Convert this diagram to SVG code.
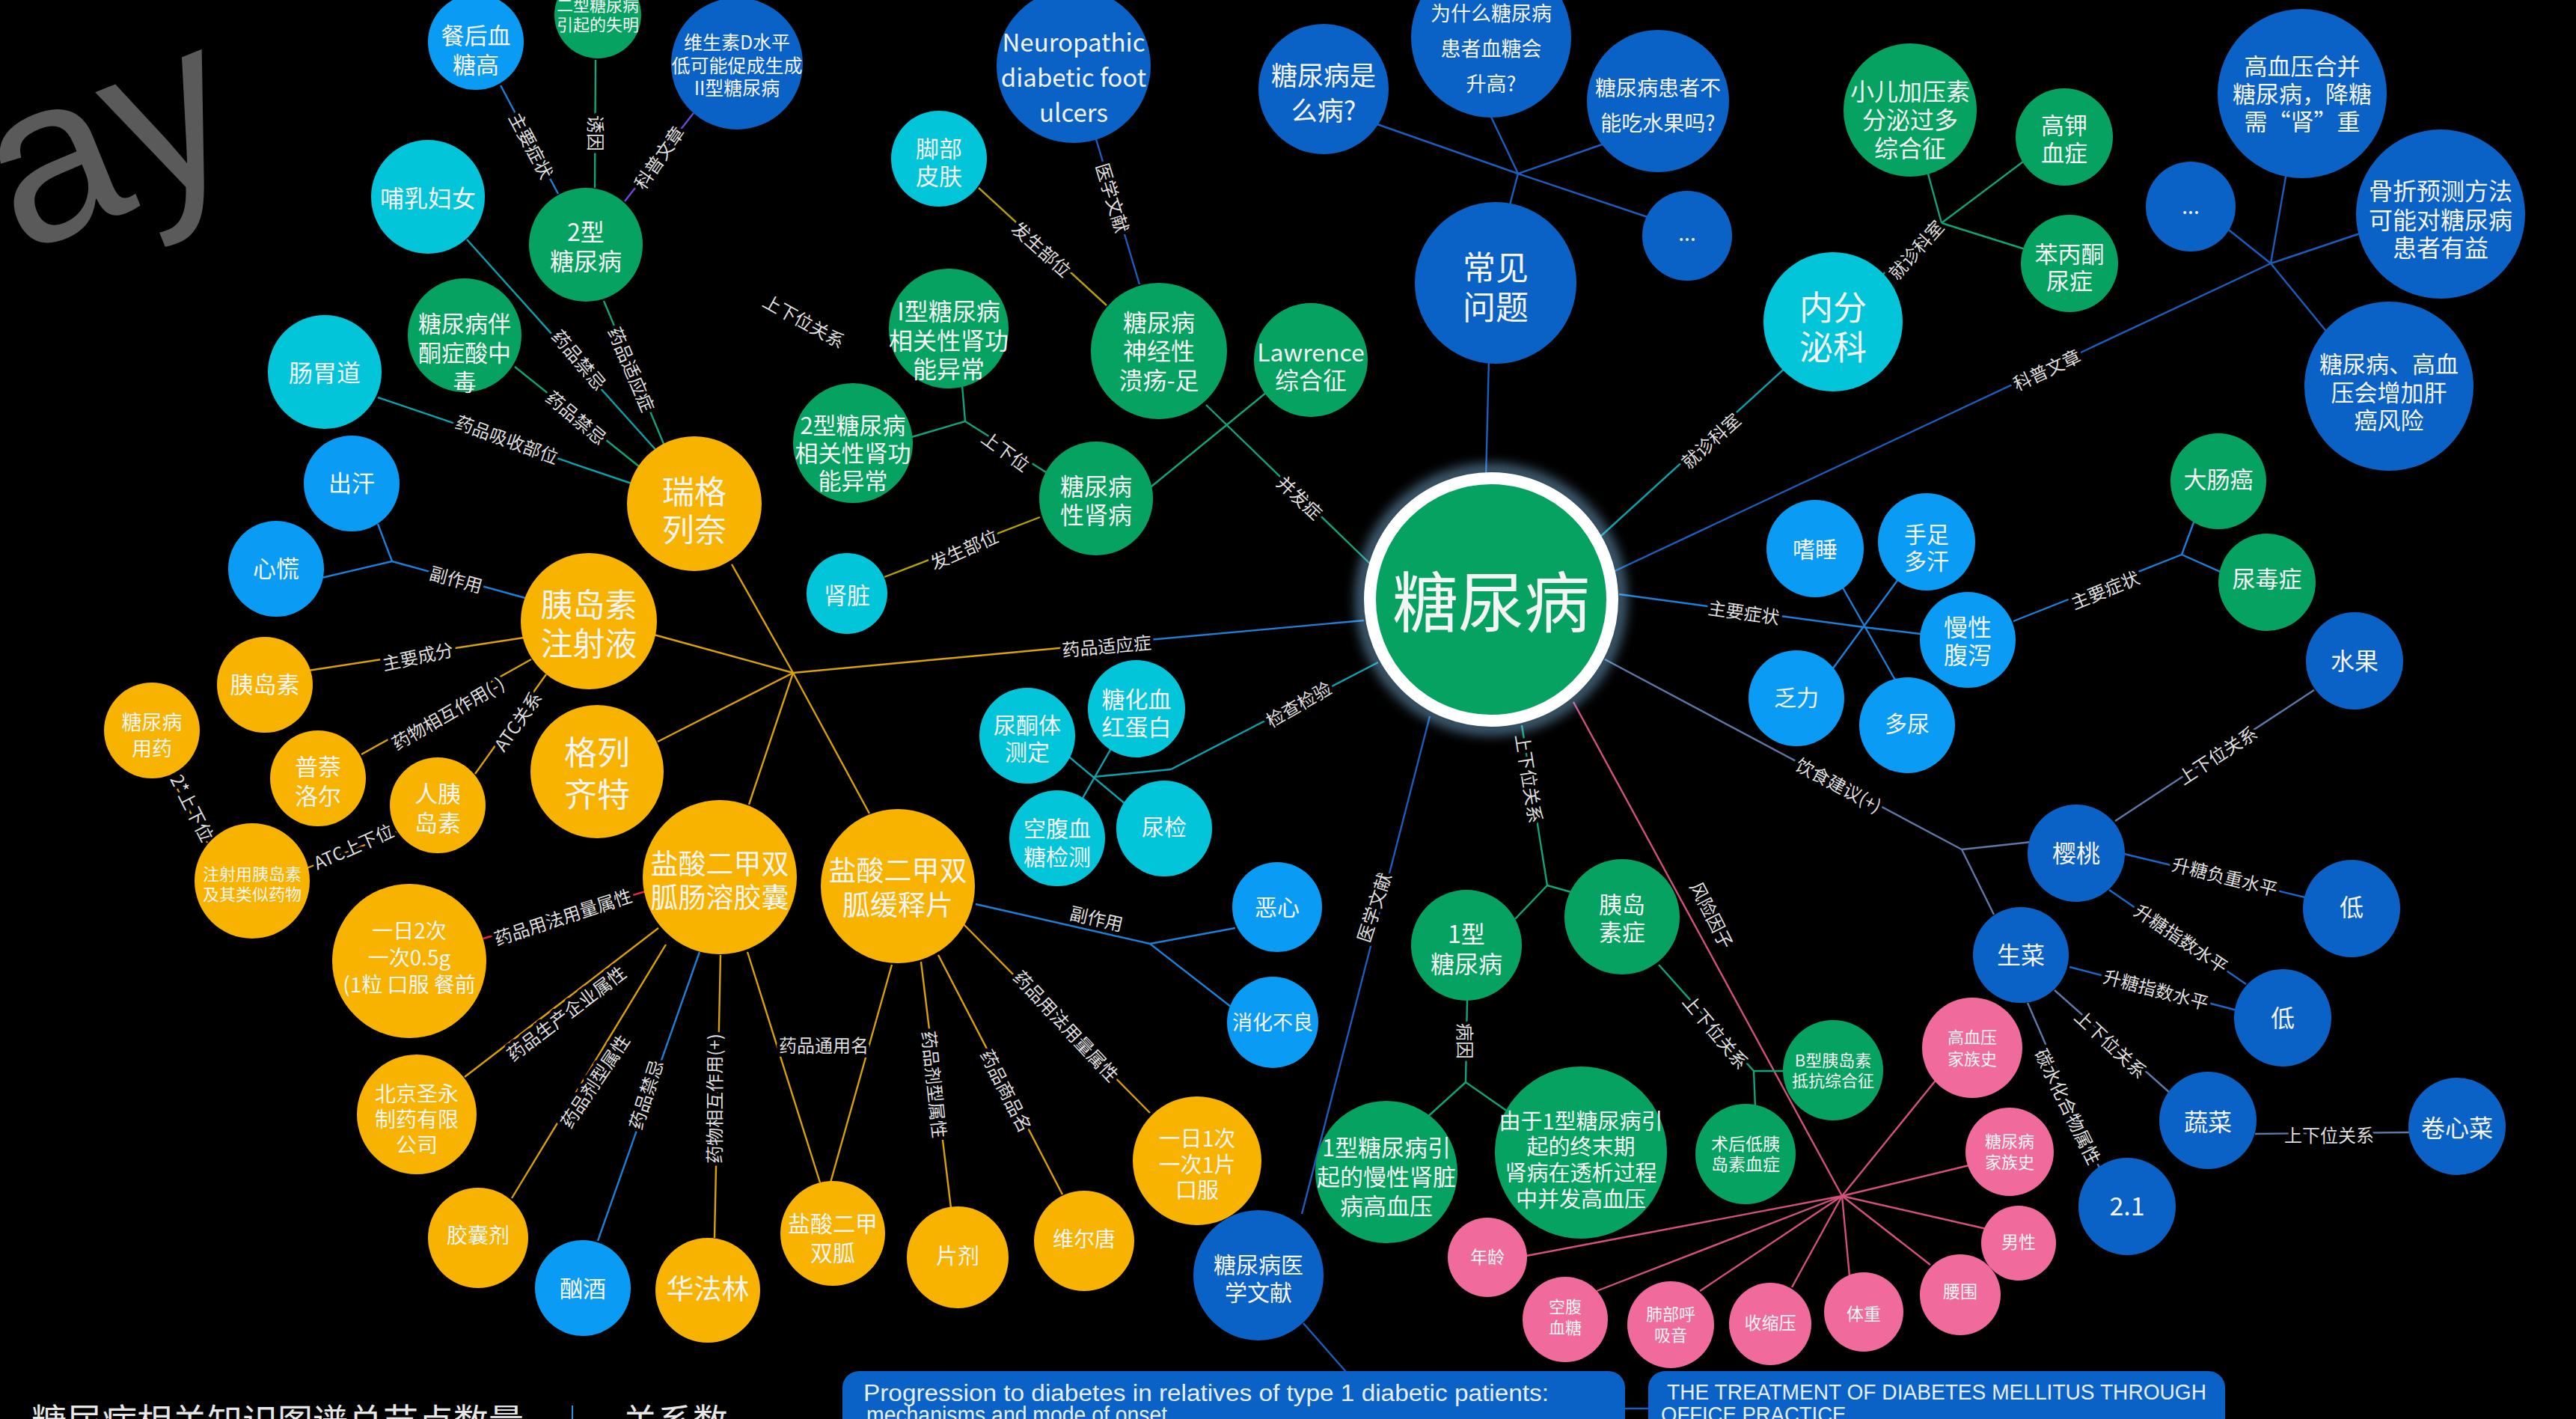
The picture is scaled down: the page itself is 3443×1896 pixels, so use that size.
<svg xmlns="http://www.w3.org/2000/svg" width="3443" height="1896" viewBox="0 0 3443 1896">
<defs>
<style>
.nd text{font-family:"Noto Sans CJK SC","Noto Sans",sans-serif;fill:#f4f4f4;text-anchor:middle;dominant-baseline:central}
.db{fill:#0b62c6}.lb{fill:#0a9cf4}.cy{fill:#03c5da}.gr{fill:#06a261}.or{fill:#f8b300}.pk{fill:#f06b9b}
#connectors line{stroke-width:2.4;fill:none}
.k-db{stroke:#1b5ebf}.k-lb{stroke:#1b80d8}.k-bl{stroke:#1a68cc}.k-te{stroke:#0aa3ab}.k-gr{stroke:#10a47a}.k-or{stroke:#d9a200}.k-ol{stroke:#b5a200}.k-pk{stroke:#d5507f}.k-sl{stroke:#5e79a8}.k-pu{stroke:#6b48d6}.k-rd{stroke:#e02a2a}
.el{font-family:"Noto Sans CJK SC","Noto Sans",sans-serif;font-size:24px;fill:#dedede;text-anchor:middle;dominant-baseline:central;stroke:#000;stroke-width:9px;paint-order:stroke;stroke-linejoin:round}
.box{fill:#0b62c6}
.bt{font-family:"Liberation Sans",Arial,sans-serif;fill:#e6eefa}
</style>
<filter id="glow" x="-30%" y="-30%" width="160%" height="160%"><feGaussianBlur stdDeviation="9"/></filter>
</defs>
<rect width="3443" height="1896" fill="#000"/>
<text x="28" y="340" transform="rotate(-22 28 340)" font-family="Liberation Sans,Arial,sans-serif" font-size="310" fill="#5a5a5a">ay</text>

<g id="connectors">
<line class="k-db" x1="1986" y1="640" x2="1990" y2="480"/>
<line class="k-db" x1="2015" y1="285" x2="2029" y2="232"/>
<line class="k-db" x1="2029" y1="232" x2="1835" y2="164"/>
<line class="k-db" x1="2029" y1="232" x2="1990" y2="150"/>
<line class="k-db" x1="2029" y1="232" x2="2150" y2="190"/>
<line class="k-db" x1="2029" y1="232" x2="2205" y2="291"/>
<line class="k-te" x1="2140" y1="716" x2="2390" y2="488"/>
<line class="k-gr" x1="2515" y1="368" x2="2595" y2="298"/>
<line class="k-gr" x1="2595" y1="298" x2="2575" y2="225"/>
<line class="k-gr" x1="2595" y1="298" x2="2712" y2="210"/>
<line class="k-gr" x1="2595" y1="298" x2="2710" y2="334"/>
<line class="k-db" x1="2158" y1="763" x2="3035" y2="352"/>
<line class="k-db" x1="3035" y1="352" x2="3057" y2="225"/>
<line class="k-db" x1="3035" y1="352" x2="2975" y2="304"/>
<line class="k-db" x1="3035" y1="352" x2="3160" y2="310"/>
<line class="k-db" x1="3035" y1="352" x2="3112" y2="446"/>
<line class="k-lb" x1="2164" y1="794" x2="2491" y2="838"/>
<line class="k-lb" x1="2491" y1="838" x2="2575" y2="848"/>
<line class="k-lb" x1="2460" y1="780" x2="2535" y2="912"/>
<line class="k-lb" x1="2540" y1="770" x2="2447" y2="897"/>
<line class="k-lb" x1="2691" y1="830" x2="2916" y2="741"/>
<line class="k-lb" x1="2916" y1="741" x2="2935" y2="690"/>
<line class="k-lb" x1="2916" y1="741" x2="2972" y2="766"/>
<line class="k-sl" x1="2145" y1="881" x2="2622" y2="1135"/>
<line class="k-sl" x1="2622" y1="1135" x2="2715" y2="1125"/>
<line class="k-sl" x1="2622" y1="1135" x2="2665" y2="1222"/>
<line class="k-sl" x1="2827" y1="1097" x2="3093" y2="922"/>
<line class="k-bl" x1="2835" y1="1140" x2="3085" y2="1200"/>
<line class="k-bl" x1="2819" y1="1189" x2="3002" y2="1315"/>
<line class="k-bl" x1="2766" y1="1292" x2="2990" y2="1350"/>
<line class="k-sl" x1="2746" y1="1323" x2="2900" y2="1460"/>
<line class="k-sl" x1="2710" y1="1340" x2="2808" y2="1565"/>
<line class="k-sl" x1="3014" y1="1515" x2="3222" y2="1513"/>
<line class="k-pk" x1="2103" y1="938" x2="2462" y2="1598"/>
<line class="k-pk" x1="2462" y1="1598" x2="2040" y2="1678"/>
<line class="k-pk" x1="2462" y1="1598" x2="2134" y2="1725"/>
<line class="k-pk" x1="2462" y1="1598" x2="2272" y2="1725"/>
<line class="k-pk" x1="2462" y1="1598" x2="2395" y2="1720"/>
<line class="k-pk" x1="2462" y1="1598" x2="2472" y2="1705"/>
<line class="k-pk" x1="2462" y1="1598" x2="2580" y2="1690"/>
<line class="k-pk" x1="2462" y1="1598" x2="2655" y2="1642"/>
<line class="k-pk" x1="2462" y1="1598" x2="2632" y2="1557"/>
<line class="k-pk" x1="2462" y1="1598" x2="2590" y2="1440"/>
<line class="k-gr" x1="2034" y1="969" x2="2068" y2="1183"/>
<line class="k-gr" x1="2068" y1="1183" x2="2025" y2="1228"/>
<line class="k-gr" x1="2068" y1="1183" x2="2100" y2="1192"/>
<line class="k-gr" x1="1961" y1="1335" x2="1959" y2="1446"/>
<line class="k-gr" x1="1959" y1="1446" x2="1905" y2="1495"/>
<line class="k-gr" x1="1959" y1="1446" x2="2015" y2="1485"/>
<line class="k-gr" x1="2217" y1="1289" x2="2344" y2="1431"/>
<line class="k-gr" x1="2344" y1="1431" x2="2390" y2="1431"/>
<line class="k-gr" x1="2344" y1="1431" x2="2346" y2="1480"/>
<line class="k-db" x1="1911" y1="957" x2="1740" y2="1622"/>
<line class="k-db" x1="1742" y1="1768" x2="1800" y2="1834"/>
<line class="k-db" x1="2170" y1="1882" x2="2205" y2="1882"/>
<line class="k-te" x1="1842" y1="885" x2="1565" y2="1028"/>
<line class="k-te" x1="1565" y1="1028" x2="1462" y2="1038"/>
<line class="k-te" x1="1425" y1="1008" x2="1505" y2="1075"/>
<line class="k-te" x1="1488" y1="995" x2="1445" y2="1070"/>
<line class="k-lb" x1="1823" y1="829" x2="1480" y2="860"/>
<line class="k-or" x1="1480" y1="860" x2="1060" y2="899"/>
<line class="k-or" x1="1060" y1="899" x2="978" y2="754"/>
<line class="k-or" x1="1060" y1="899" x2="874" y2="848"/>
<line class="k-or" x1="1060" y1="899" x2="879" y2="991"/>
<line class="k-or" x1="1060" y1="899" x2="1001" y2="1075"/>
<line class="k-or" x1="1060" y1="899" x2="1162" y2="1087"/>
<line class="k-lb" x1="746" y1="259" x2="669" y2="114"/>
<line class="k-gr" x1="795" y1="251" x2="796" y2="80"/>
<line class="k-pu" x1="835" y1="269" x2="927" y2="151"/>
<line class="k-gr" x1="807" y1="402" x2="890" y2="600"/>
<line class="k-te" x1="624" y1="320" x2="880" y2="605"/>
<line class="k-gr" x1="688" y1="490" x2="860" y2="628"/>
<line class="k-te" x1="505" y1="531" x2="850" y2="648"/>
<line class="k-lb" x1="702" y1="799" x2="524" y2="750"/>
<line class="k-lb" x1="524" y1="750" x2="505" y2="700"/>
<line class="k-lb" x1="524" y1="750" x2="430" y2="772"/>
<line class="k-or" x1="700" y1="852" x2="412" y2="896"/>
<line class="k-or" x1="710" y1="881" x2="483" y2="1008"/>
<line class="k-or" x1="730" y1="901" x2="635" y2="1034"/>
<line class="k-or" x1="530" y1="1112" x2="410" y2="1160"/>
<line class="k-or" x1="228" y1="1038" x2="277" y2="1126"/>
<line class="k-rd" x1="870" y1="1189" x2="646" y2="1254"/>
<line class="k-or" x1="880" y1="1240" x2="621" y2="1439"/>
<line class="k-or" x1="890" y1="1262" x2="684" y2="1601"/>
<line class="k-lb" x1="935" y1="1272" x2="799" y2="1658"/>
<line class="k-or" x1="963" y1="1276" x2="955" y2="1654"/>
<line class="k-or" x1="999" y1="1272" x2="1096" y2="1580"/>
<line class="k-or" x1="1192" y1="1289" x2="1110" y2="1580"/>
<line class="k-or" x1="1231" y1="1285" x2="1271" y2="1614"/>
<line class="k-or" x1="1254" y1="1276" x2="1420" y2="1596"/>
<line class="k-or" x1="1285" y1="1232" x2="1537" y2="1487"/>
<line class="k-lb" x1="1304" y1="1208" x2="1537" y2="1261"/>
<line class="k-lb" x1="1537" y1="1261" x2="1651" y2="1240"/>
<line class="k-lb" x1="1537" y1="1261" x2="1645" y2="1345"/>
<line class="k-ol" x1="1479" y1="408" x2="1308" y2="251"/>
<line class="k-db" x1="1523" y1="380" x2="1465" y2="186"/>
<line class="k-gr" x1="1612" y1="541" x2="1835" y2="757"/>
<line class="k-gr" x1="1698" y1="520" x2="1534" y2="654"/>
<line class="k-gr" x1="1398" y1="631" x2="1290" y2="563"/>
<line class="k-gr" x1="1290" y1="563" x2="1286" y2="515"/>
<line class="k-gr" x1="1290" y1="563" x2="1215" y2="585"/>
<line class="k-ol" x1="1390" y1="691" x2="1182" y2="771"/>

<text class="el" transform="translate(2286 588) rotate(-42)">就诊科室</text>
<text class="el" transform="translate(2560 333) rotate(-48)">就诊科室</text>
<text class="el" transform="translate(2735 493) rotate(-25)">科普文章</text>
<text class="el" transform="translate(2331 817) rotate(8)">主要症状</text>
<text class="el" transform="translate(2813 787) rotate(-22)">主要症状</text>
<text class="el" transform="translate(2458 1048) rotate(28)">饮食建议(+)</text>
<text class="el" transform="translate(2963 1008) rotate(-33)">上下位关系</text>
<text class="el" transform="translate(2974 1170) rotate(14)">升糖负重水平</text>
<text class="el" transform="translate(2916 1253) rotate(34)">升糖指数水平</text>
<text class="el" transform="translate(2882 1321) rotate(15)">升糖指数水平</text>
<text class="el" transform="translate(2822 1394) rotate(43)">上下位关系</text>
<text class="el" transform="translate(2765 1478) rotate(64)">碳水化合物属性</text>
<text class="el" transform="translate(3113 1515)">上下位关系</text>
<text class="el" transform="translate(2289 1222) rotate(63)">风险因子</text>
<text class="el" transform="translate(2045 1040) rotate(81)">上下位关系</text>
<text class="el" transform="translate(1959 1391) rotate(90)">病因</text>
<text class="el" transform="translate(2294 1378) rotate(50)">上下位关系</text>
<text class="el" transform="translate(1835 1212) rotate(-72)">医学文献</text>
<text class="el" transform="translate(1735 940) rotate(-30)">检查检验</text>
<text class="el" transform="translate(1479 862) rotate(-5)">药品适应症</text>
<text class="el" transform="translate(711 194) rotate(62)">主要症状</text>
<text class="el" transform="translate(797 178) rotate(90)">诱因</text>
<text class="el" transform="translate(880 210) rotate(-55)">科普文章</text>
<text class="el" transform="translate(845 493) rotate(67)">药品适应症</text>
<text class="el" transform="translate(775 480) rotate(50)">药品禁忌</text>
<text class="el" transform="translate(771 557) rotate(40)">药品禁忌</text>
<text class="el" transform="translate(678 586) rotate(20)">药品吸收部位</text>
<text class="el" transform="translate(610 773) rotate(15)">副作用</text>
<text class="el" transform="translate(558 876) rotate(-12)">主要成分</text>
<text class="el" transform="translate(598 952) rotate(-30)">药物相互作用(-)</text>
<text class="el" transform="translate(691 963) rotate(-55)">ATC关系</text>
<text class="el" transform="translate(472 1130) rotate(-24)">ATC上下位</text>
<text class="el" transform="translate(258 1079) rotate(63)">2*上下位</text>
<text class="el" transform="translate(752 1224) rotate(-18)">药品用法用量属性</text>
<text class="el" transform="translate(756 1353) rotate(-37)">药品生产企业属性</text>
<text class="el" transform="translate(794 1444) rotate(-56)">药品剂型属性</text>
<text class="el" transform="translate(862 1462) rotate(-72)">药品禁忌</text>
<text class="el" transform="translate(953 1468) rotate(-90)">药物相互作用(+)</text>
<text class="el" transform="translate(1101 1395)">药品通用名</text>
<text class="el" transform="translate(1250 1449) rotate(84)">药品剂型属性</text>
<text class="el" transform="translate(1346 1457) rotate(63)">药品商品名</text>
<text class="el" transform="translate(1426 1370) rotate(47)">药品用法用量属性</text>
<text class="el" transform="translate(1466 1226) rotate(13)">副作用</text>
<text class="el" transform="translate(1393 332) rotate(42)">发生部位</text>
<text class="el" transform="translate(1488 264) rotate(73)">医学文献</text>
<text class="el" transform="translate(1738 664) rotate(43)">并发症</text>
<text class="el" transform="translate(1345 602) rotate(36)">上下位</text>
<text class="el" transform="translate(1288 733) rotate(-24)">发生部位</text>
<text class="el" transform="translate(1075 428) rotate(29)">上下位关系</text>
</g>

<g id="n-canhou" class="nd"><circle class="lb" cx="636" cy="56" r="64"/><text font-size="31"><tspan x="636" y="45">餐后血</tspan><tspan x="636" y="84">糖高</tspan></text></g>
<g id="n-shiming" class="nd"><circle class="gr" cx="799" cy="20" r="58"/><text font-size="22"><tspan x="799" y="5">二型糖尿病</tspan><tspan x="799" y="31">引起的失明</tspan></text></g>
<g id="n-vitd" class="nd"><circle class="db" cx="985" cy="85" r="88"/><text font-size="25"><tspan x="985" y="55">维生素D水平</tspan><tspan x="985" y="86">低可能促成生成</tspan><tspan x="985" y="116">II型糖尿病</tspan></text></g>
<g id="n-t2" class="nd"><circle class="gr" cx="783" cy="327" r="76"/><text font-size="32"><tspan x="783" y="308">2型</tspan><tspan x="783" y="347">糖尿病</tspan></text></g>
<g id="n-buru" class="nd"><circle class="cy" cx="572" cy="263" r="76"/><text x="572" y="263" font-size="32">哺乳妇女</text></g>
<g id="n-tongzheng" class="nd"><circle class="gr" cx="621" cy="448" r="76"/><text font-size="31"><tspan x="621" y="430">糖尿病伴</tspan><tspan x="621" y="469">酮症酸中</tspan><tspan x="621" y="508">毒</tspan></text></g>
<g id="n-changwei" class="nd"><circle class="cy" cx="434" cy="497" r="76"/><text x="434" y="496" font-size="32">肠胃道</text></g>
<g id="n-chuhan" class="nd"><circle class="lb" cx="470" cy="646" r="64"/><text x="470" y="643" font-size="31">出汗</text></g>
<g id="n-xinhuang" class="nd"><circle class="lb" cx="369" cy="760" r="64"/><text x="369" y="757" font-size="31">心慌</text></g>
<g id="n-yidaosuzsy" class="nd"><circle class="or" cx="787" cy="830" r="91"/><text font-size="43"><tspan x="787" y="805">胰岛素</tspan><tspan x="787" y="857">注射液</tspan></text></g>
<g id="n-yidaosu" class="nd"><circle class="or" cx="354" cy="915" r="64"/><text x="354" y="912" font-size="31">胰岛素</text></g>
<g id="n-tnbyy" class="nd"><circle class="or" cx="203" cy="976" r="64"/><text font-size="27"><tspan x="203" y="963">糖尿病</tspan><tspan x="203" y="998">用药</tspan></text></g>
<g id="n-pulaner" class="nd"><circle class="or" cx="425" cy="1040" r="64"/><text font-size="31"><tspan x="425" y="1022">普萘</tspan><tspan x="425" y="1061">洛尔</tspan></text></g>
<g id="n-renyidaosu" class="nd"><circle class="or" cx="585" cy="1076" r="64"/><text font-size="31"><tspan x="585" y="1058">人胰</tspan><tspan x="585" y="1097">岛素</tspan></text></g>
<g id="n-gelieqite" class="nd"><circle class="or" cx="798" cy="1031" r="89"/><text font-size="44"><tspan x="798" y="1003">格列</tspan><tspan x="798" y="1059">齐特</tspan></text></g>
<g id="n-zsyyds" class="nd"><circle class="or" cx="337" cy="1177" r="77"/><text font-size="22"><tspan x="337" y="1166">注射用胰岛素</tspan><tspan x="337" y="1193">及其类似药物</tspan></text></g>
<g id="n-yiri2" class="nd"><circle class="or" cx="547" cy="1284" r="103"/><text font-size="28"><tspan x="547" y="1242">一日2次</tspan><tspan x="547" y="1278">一次0.5g</tspan><tspan x="547" y="1314">(1粒 口服 餐前</tspan></text></g>
<g id="n-beijing" class="nd"><circle class="or" cx="557" cy="1489" r="80"/><text font-size="28"><tspan x="557" y="1460">北京圣永</tspan><tspan x="557" y="1494">制药有限</tspan><tspan x="557" y="1528">公司</tspan></text></g>
<g id="n-jiaonang" class="nd"><circle class="or" cx="639" cy="1654" r="67"/><text x="639" y="1649" font-size="28">胶囊剂</text></g>
<g id="n-xujiu" class="nd"><circle class="lb" cx="779" cy="1721" r="64"/><text x="779" y="1719" font-size="31">酗酒</text></g>
<g id="n-huafalin" class="nd"><circle class="or" cx="946" cy="1724" r="70"/><text x="946" y="1720" font-size="37">华法林</text></g>
<g id="n-ysejsg" class="nd"><circle class="or" cx="1113" cy="1648" r="70"/><text font-size="30"><tspan x="1113" y="1633">盐酸二甲</tspan><tspan x="1113" y="1672">双胍</tspan></text></g>
<g id="n-pianji" class="nd"><circle class="or" cx="1280" cy="1680" r="68"/><text x="1280" y="1676" font-size="29">片剂</text></g>
<g id="n-weiertang" class="nd"><circle class="or" cx="1449" cy="1658" r="67"/><text x="1449" y="1654" font-size="28">维尔唐</text></g>
<g id="n-yiri1" class="nd"><circle class="or" cx="1600" cy="1551" r="86"/><text font-size="29"><tspan x="1600" y="1519">一日1次</tspan><tspan x="1600" y="1554">一次1片</tspan><tspan x="1600" y="1588">口服</tspan></text></g>
<g id="n-tnbyxwx" class="nd"><circle class="db" cx="1682" cy="1704" r="87"/><text font-size="30"><tspan x="1682" y="1688">糖尿病医</tspan><tspan x="1682" y="1725">学文献</tspan></text></g>
<g id="n-changrong" class="nd"><circle class="or" cx="962" cy="1172" r="103"/><text font-size="37"><tspan x="962" y="1152">盐酸二甲双</tspan><tspan x="962" y="1197">胍肠溶胶囊</tspan></text></g>
<g id="n-huanshi" class="nd"><circle class="or" cx="1200" cy="1184" r="103"/><text font-size="37"><tspan x="1200" y="1161">盐酸二甲双</tspan><tspan x="1200" y="1207">胍缓释片</tspan></text></g>
<g id="n-ruige" class="nd"><circle class="or" cx="928" cy="673" r="90"/><text font-size="43"><tspan x="928" y="654">瑞格</tspan><tspan x="928" y="705">列奈</tspan></text></g>
<g id="n-shenzang" class="nd"><circle class="cy" cx="1132" cy="793" r="54"/><text x="1132" y="793" font-size="31">肾脏</text></g>
<g id="n-tnbxsb" class="nd"><circle class="gr" cx="1465" cy="666" r="76"/><text font-size="32"><tspan x="1465" y="648">糖尿病</tspan><tspan x="1465" y="686">性肾病</tspan></text></g>
<g id="n-t2xg" class="nd"><circle class="gr" cx="1140" cy="592" r="80"/><text font-size="31"><tspan x="1140" y="566">2型糖尿病</tspan><tspan x="1140" y="603">相关性肾功</tspan><tspan x="1140" y="640">能异常</tspan></text></g>
<g id="n-t1xg" class="nd"><circle class="gr" cx="1268" cy="439" r="80"/><text font-size="32"><tspan x="1268" y="414">I型糖尿病</tspan><tspan x="1268" y="453">相关性肾功</tspan><tspan x="1268" y="491">能异常</tspan></text></g>
<g id="n-jiaobu" class="nd"><circle class="cy" cx="1255" cy="212" r="64"/><text font-size="31"><tspan x="1255" y="196">脚部</tspan><tspan x="1255" y="233">皮肤</tspan></text></g>
<g id="n-neuro" class="nd"><circle class="db" cx="1435" cy="88" r="103"/><text font-size="33"><tspan x="1435" y="55">Neuropathic</tspan><tspan x="1435" y="102">diabetic foot</tspan><tspan x="1435" y="149">ulcers</tspan></text></g>
<g id="n-kuiyang" class="nd"><circle class="gr" cx="1549" cy="469" r="91"/><text font-size="32"><tspan x="1549" y="429">糖尿病</tspan><tspan x="1549" y="467">神经性</tspan><tspan x="1549" y="506">溃疡-足</tspan></text></g>
<g id="n-lawrence" class="nd"><circle class="gr" cx="1752" cy="481" r="76"/><text font-size="32"><tspan x="1752" y="469">Lawrence</tspan><tspan x="1752" y="506">综合征</tspan></text></g>
<g id="n-shime" class="nd"><circle class="db" cx="1769" cy="119" r="87"/><text font-size="35"><tspan x="1769" y="98">糖尿病是</tspan><tspan x="1769" y="145">么病?</tspan></text></g>
<g id="n-weishenme" class="nd"><circle class="db" cx="1993" cy="50" r="107"/><text font-size="27"><tspan x="1993" y="16">为什么糖尿病</tspan><tspan x="1993" y="63">患者血糖会</tspan><tspan x="1993" y="110">升高?</tspan></text></g>
<g id="n-shuiguoq" class="nd"><circle class="db" cx="2216" cy="135" r="95"/><text font-size="28"><tspan x="2216" y="116">糖尿病患者不</tspan><tspan x="2216" y="163">能吃水果吗?</tspan></text></g>
<g id="n-dots1" class="nd"><circle class="db" cx="2255" cy="315" r="60"/><text x="2255" y="310" font-size="28">...</text></g>
<g id="n-changjian" class="nd"><circle class="db" cx="1999" cy="378" r="108"/><text font-size="44"><tspan x="1999" y="355">常见</tspan><tspan x="1999" y="408">问题</tspan></text></g>
<g id="n-neifenmi" class="nd"><circle class="cy" cx="2450" cy="430" r="93"/><text font-size="45"><tspan x="2450" y="408">内分</tspan><tspan x="2450" y="461">泌科</tspan></text></g>
<g id="n-xiaoer" class="nd"><circle class="gr" cx="2553" cy="147" r="89"/><text font-size="32"><tspan x="2553" y="120">小儿加压素</tspan><tspan x="2553" y="158">分泌过多</tspan><tspan x="2553" y="196">综合征</tspan></text></g>
<g id="n-gaojia" class="nd"><circle class="gr" cx="2759" cy="183" r="65"/><text font-size="31"><tspan x="2759" y="165">高钾</tspan><tspan x="2759" y="202">血症</tspan></text></g>
<g id="n-benbing" class="nd"><circle class="gr" cx="2766" cy="352" r="65"/><text font-size="31"><tspan x="2766" y="337">苯丙酮</tspan><tspan x="2766" y="373">尿症</tspan></text></g>
<g id="n-gxyhb" class="nd"><circle class="db" cx="3077" cy="125" r="113"/><text font-size="31"><tspan x="3077" y="86">高血压合并</tspan><tspan x="3077" y="123">糖尿病，降糖</tspan><tspan x="3077" y="160">需“肾”重</tspan></text></g>
<g id="n-dots2" class="nd"><circle class="db" cx="2928" cy="276" r="60"/><text x="2928" y="274" font-size="28">...</text></g>
<g id="n-guzhe" class="nd"><circle class="db" cx="3262" cy="286" r="113"/><text font-size="32"><tspan x="3262" y="253">骨折预测方法</tspan><tspan x="3262" y="292">可能对糖尿病</tspan><tspan x="3262" y="329">患者有益</tspan></text></g>
<g id="n-ganai" class="nd"><circle class="db" cx="3193" cy="516" r="113"/><text font-size="31"><tspan x="3193" y="484">糖尿病、高血</tspan><tspan x="3193" y="522">压会增加肝</tspan><tspan x="3193" y="559">癌风险</tspan></text></g>
<g id="n-dachang" class="nd"><circle class="gr" cx="2965" cy="643" r="64"/><text x="2965" y="638" font-size="31">大肠癌</text></g>
<g id="n-niaodu" class="nd"><circle class="gr" cx="3030" cy="778" r="65"/><text x="3030" y="771" font-size="31">尿毒症</text></g>
<g id="n-shuiguo" class="nd"><circle class="db" cx="3147" cy="883" r="65"/><text x="3147" y="881" font-size="32">水果</text></g>
<g id="n-shishui" class="nd"><circle class="lb" cx="2426" cy="733" r="65"/><text x="2426" y="732" font-size="30">嗜睡</text></g>
<g id="n-shouzu" class="nd"><circle class="lb" cx="2575" cy="724" r="65"/><text font-size="30"><tspan x="2575" y="712">手足</tspan><tspan x="2575" y="748">多汗</tspan></text></g>
<g id="n-manxing" class="nd"><circle class="lb" cx="2630" cy="855" r="64"/><text font-size="32"><tspan x="2630" y="836">慢性</tspan><tspan x="2630" y="873">腹泻</tspan></text></g>
<g id="n-fali" class="nd"><circle class="lb" cx="2401" cy="933" r="64"/><text x="2401" y="930" font-size="30">乏力</text></g>
<g id="n-duoniao" class="nd"><circle class="lb" cx="2549" cy="969" r="64"/><text x="2549" y="965" font-size="30">多尿</text></g>
<g id="n-center" class="nd">
<circle cx="1993" cy="801" r="172" fill="none" stroke="#8fd2ff" stroke-width="12" opacity="0.75" filter="url(#glow)"/>
<circle class="gr" cx="1993" cy="801" r="162" stroke="#ffffff" stroke-width="16"/>
<text x="1993" y="798" font-size="88">糖尿病</text></g>
<g id="n-t1" class="nd"><circle class="gr" cx="1960" cy="1263" r="74"/><text font-size="32"><tspan x="1960" y="1246">1型</tspan><tspan x="1960" y="1286">糖尿病</tspan></text></g>
<g id="n-yidaosuzheng" class="nd"><circle class="gr" cx="2168" cy="1225" r="77"/><text font-size="31"><tspan x="2168" y="1206">胰岛</tspan><tspan x="2168" y="1243">素症</tspan></text></g>
<g id="n-ckd" class="nd"><circle class="gr" cx="1853" cy="1566" r="95"/><text font-size="31"><tspan x="1853" y="1531">1型糖尿病引</tspan><tspan x="1853" y="1570">起的慢性肾脏</tspan><tspan x="1853" y="1609">病高血压</tspan></text></g>
<g id="n-esrd" class="nd"><circle class="gr" cx="2113" cy="1540" r="115"/><text font-size="29"><tspan x="2113" y="1496">由于1型糖尿病引</tspan><tspan x="2113" y="1530">起的终末期</tspan><tspan x="2113" y="1565">肾病在透析过程</tspan><tspan x="2113" y="1600">中并发高血压</tspan></text></g>
<g id="n-btype" class="nd"><circle class="gr" cx="2450" cy="1430" r="67"/><text font-size="22"><tspan x="2450" y="1415">B型胰岛素</tspan><tspan x="2450" y="1442">抵抗综合征</tspan></text></g>
<g id="n-shuhou" class="nd"><circle class="gr" cx="2333" cy="1542" r="67"/><text font-size="23"><tspan x="2333" y="1527">术后低胰</tspan><tspan x="2333" y="1554">岛素血症</tspan></text></g>
<g id="n-gxyjzs" class="nd"><circle class="pk" cx="2636" cy="1400" r="67"/><text font-size="22"><tspan x="2636" y="1384">高血压</tspan><tspan x="2636" y="1413">家族史</tspan></text></g>
<g id="n-tnbjzs" class="nd"><circle class="pk" cx="2686" cy="1539" r="59"/><text font-size="22"><tspan x="2686" y="1523">糖尿病</tspan><tspan x="2686" y="1551">家族史</tspan></text></g>
<g id="n-nanxing" class="nd"><circle class="pk" cx="2698" cy="1661" r="50"/><text x="2698" y="1658" font-size="23">男性</text></g>
<g id="n-yaowei" class="nd"><circle class="pk" cx="2620" cy="1730" r="54"/><text x="2620" y="1724" font-size="23">腰围</text></g>
<g id="n-tizhong" class="nd"><circle class="pk" cx="2491" cy="1753" r="53"/><text x="2491" y="1754" font-size="23">体重</text></g>
<g id="n-shousuoya" class="nd"><circle class="pk" cx="2366" cy="1769" r="55"/><text x="2366" y="1766" font-size="23">收缩压</text></g>
<g id="n-feibu" class="nd"><circle class="pk" cx="2233" cy="1770" r="58"/><text font-size="22"><tspan x="2233" y="1754">肺部呼</tspan><tspan x="2233" y="1782">吸音</tspan></text></g>
<g id="n-kongfu" class="nd"><circle class="pk" cx="2092" cy="1763" r="57"/><text font-size="22"><tspan x="2092" y="1744">空腹</tspan><tspan x="2092" y="1772">血糖</tspan></text></g>
<g id="n-nianling" class="nd"><circle class="pk" cx="1988" cy="1680" r="53"/><text x="1988" y="1678" font-size="23">年龄</text></g>
<g id="n-yingtao" class="nd"><circle class="db" cx="2775" cy="1140" r="65"/><text x="2775" y="1138" font-size="32">樱桃</text></g>
<g id="n-di1" class="nd"><circle class="db" cx="3143" cy="1214" r="65"/><text x="3143" y="1210" font-size="32">低</text></g>
<g id="n-shengcai" class="nd"><circle class="db" cx="2701" cy="1276" r="64"/><text x="2701" y="1274" font-size="32">生菜</text></g>
<g id="n-di2" class="nd"><circle class="db" cx="3051" cy="1360" r="65"/><text x="3051" y="1358" font-size="32">低</text></g>
<g id="n-shucai" class="nd"><circle class="db" cx="2951" cy="1497" r="65"/><text x="2951" y="1497" font-size="32">蔬菜</text></g>
<g id="n-juanxin" class="nd"><circle class="db" cx="3284" cy="1505" r="65"/><text x="3284" y="1505" font-size="32">卷心菜</text></g>
<g id="n-21" class="nd"><circle class="db" cx="2843" cy="1612" r="65"/><text x="2843" y="1609" font-size="34">2.1</text></g>
<g id="n-exin" class="nd"><circle class="lb" cx="1707" cy="1212" r="60"/><text x="1707" y="1210" font-size="30">恶心</text></g>
<g id="n-xiaohua" class="nd"><circle class="lb" cx="1701" cy="1366" r="61"/><text x="1701" y="1364" font-size="27">消化不良</text></g>
<g id="n-niaotong" class="nd"><circle class="cy" cx="1373" cy="983" r="64"/><text font-size="30"><tspan x="1373" y="967">尿酮体</tspan><tspan x="1373" y="1003">测定</tspan></text></g>
<g id="n-tanghua" class="nd"><circle class="cy" cx="1519" cy="947" r="65"/><text font-size="31"><tspan x="1519" y="932">糖化血</tspan><tspan x="1519" y="969">红蛋白</tspan></text></g>
<g id="n-kongfujc" class="nd"><circle class="cy" cx="1413" cy="1120" r="64"/><text font-size="30"><tspan x="1413" y="1105">空腹血</tspan><tspan x="1413" y="1143">糖检测</tspan></text></g>
<g id="n-niaojian" class="nd"><circle class="cy" cx="1556" cy="1107" r="64"/><text x="1556" y="1103" font-size="30">尿检</text></g>

<g id="n-paper1"><rect class="box" x="1126" y="1832" width="1046" height="110" rx="22"/>
<text class="bt" x="1154" y="1872" font-size="31" textLength="916" lengthAdjust="spacingAndGlyphs">Progression to diabetes in relatives of type 1 diabetic patients:</text>
<text class="bt" x="1158" y="1901" font-size="31" textLength="410" lengthAdjust="spacingAndGlyphs">mechanisms and mode of onset.</text></g>
<g id="n-paper2"><rect class="box" x="2203" y="1832" width="771" height="110" rx="22"/>
<text class="bt" x="2228" y="1870" font-size="29" textLength="721" lengthAdjust="spacingAndGlyphs">THE TREATMENT OF DIABETES MELLITUS THROUGH</text>
<text class="bt" x="2220" y="1900" font-size="29" textLength="255" lengthAdjust="spacingAndGlyphs">OFFICE PRACTICE.</text></g>

<g id="stats">
<text x="42" y="1916" font-family="Noto Sans CJK SC,sans-serif" font-size="47" fill="#e6e6e6">糖尿病相关知识图谱总节点数量</text>
<line x1="765" y1="1878" x2="765" y2="1896" stroke="#2f8fd8" stroke-width="2"/>
<text x="832" y="1916" font-family="Noto Sans CJK SC,sans-serif" font-size="47" fill="#e6e6e6">关系数</text>
</g>
</svg>
